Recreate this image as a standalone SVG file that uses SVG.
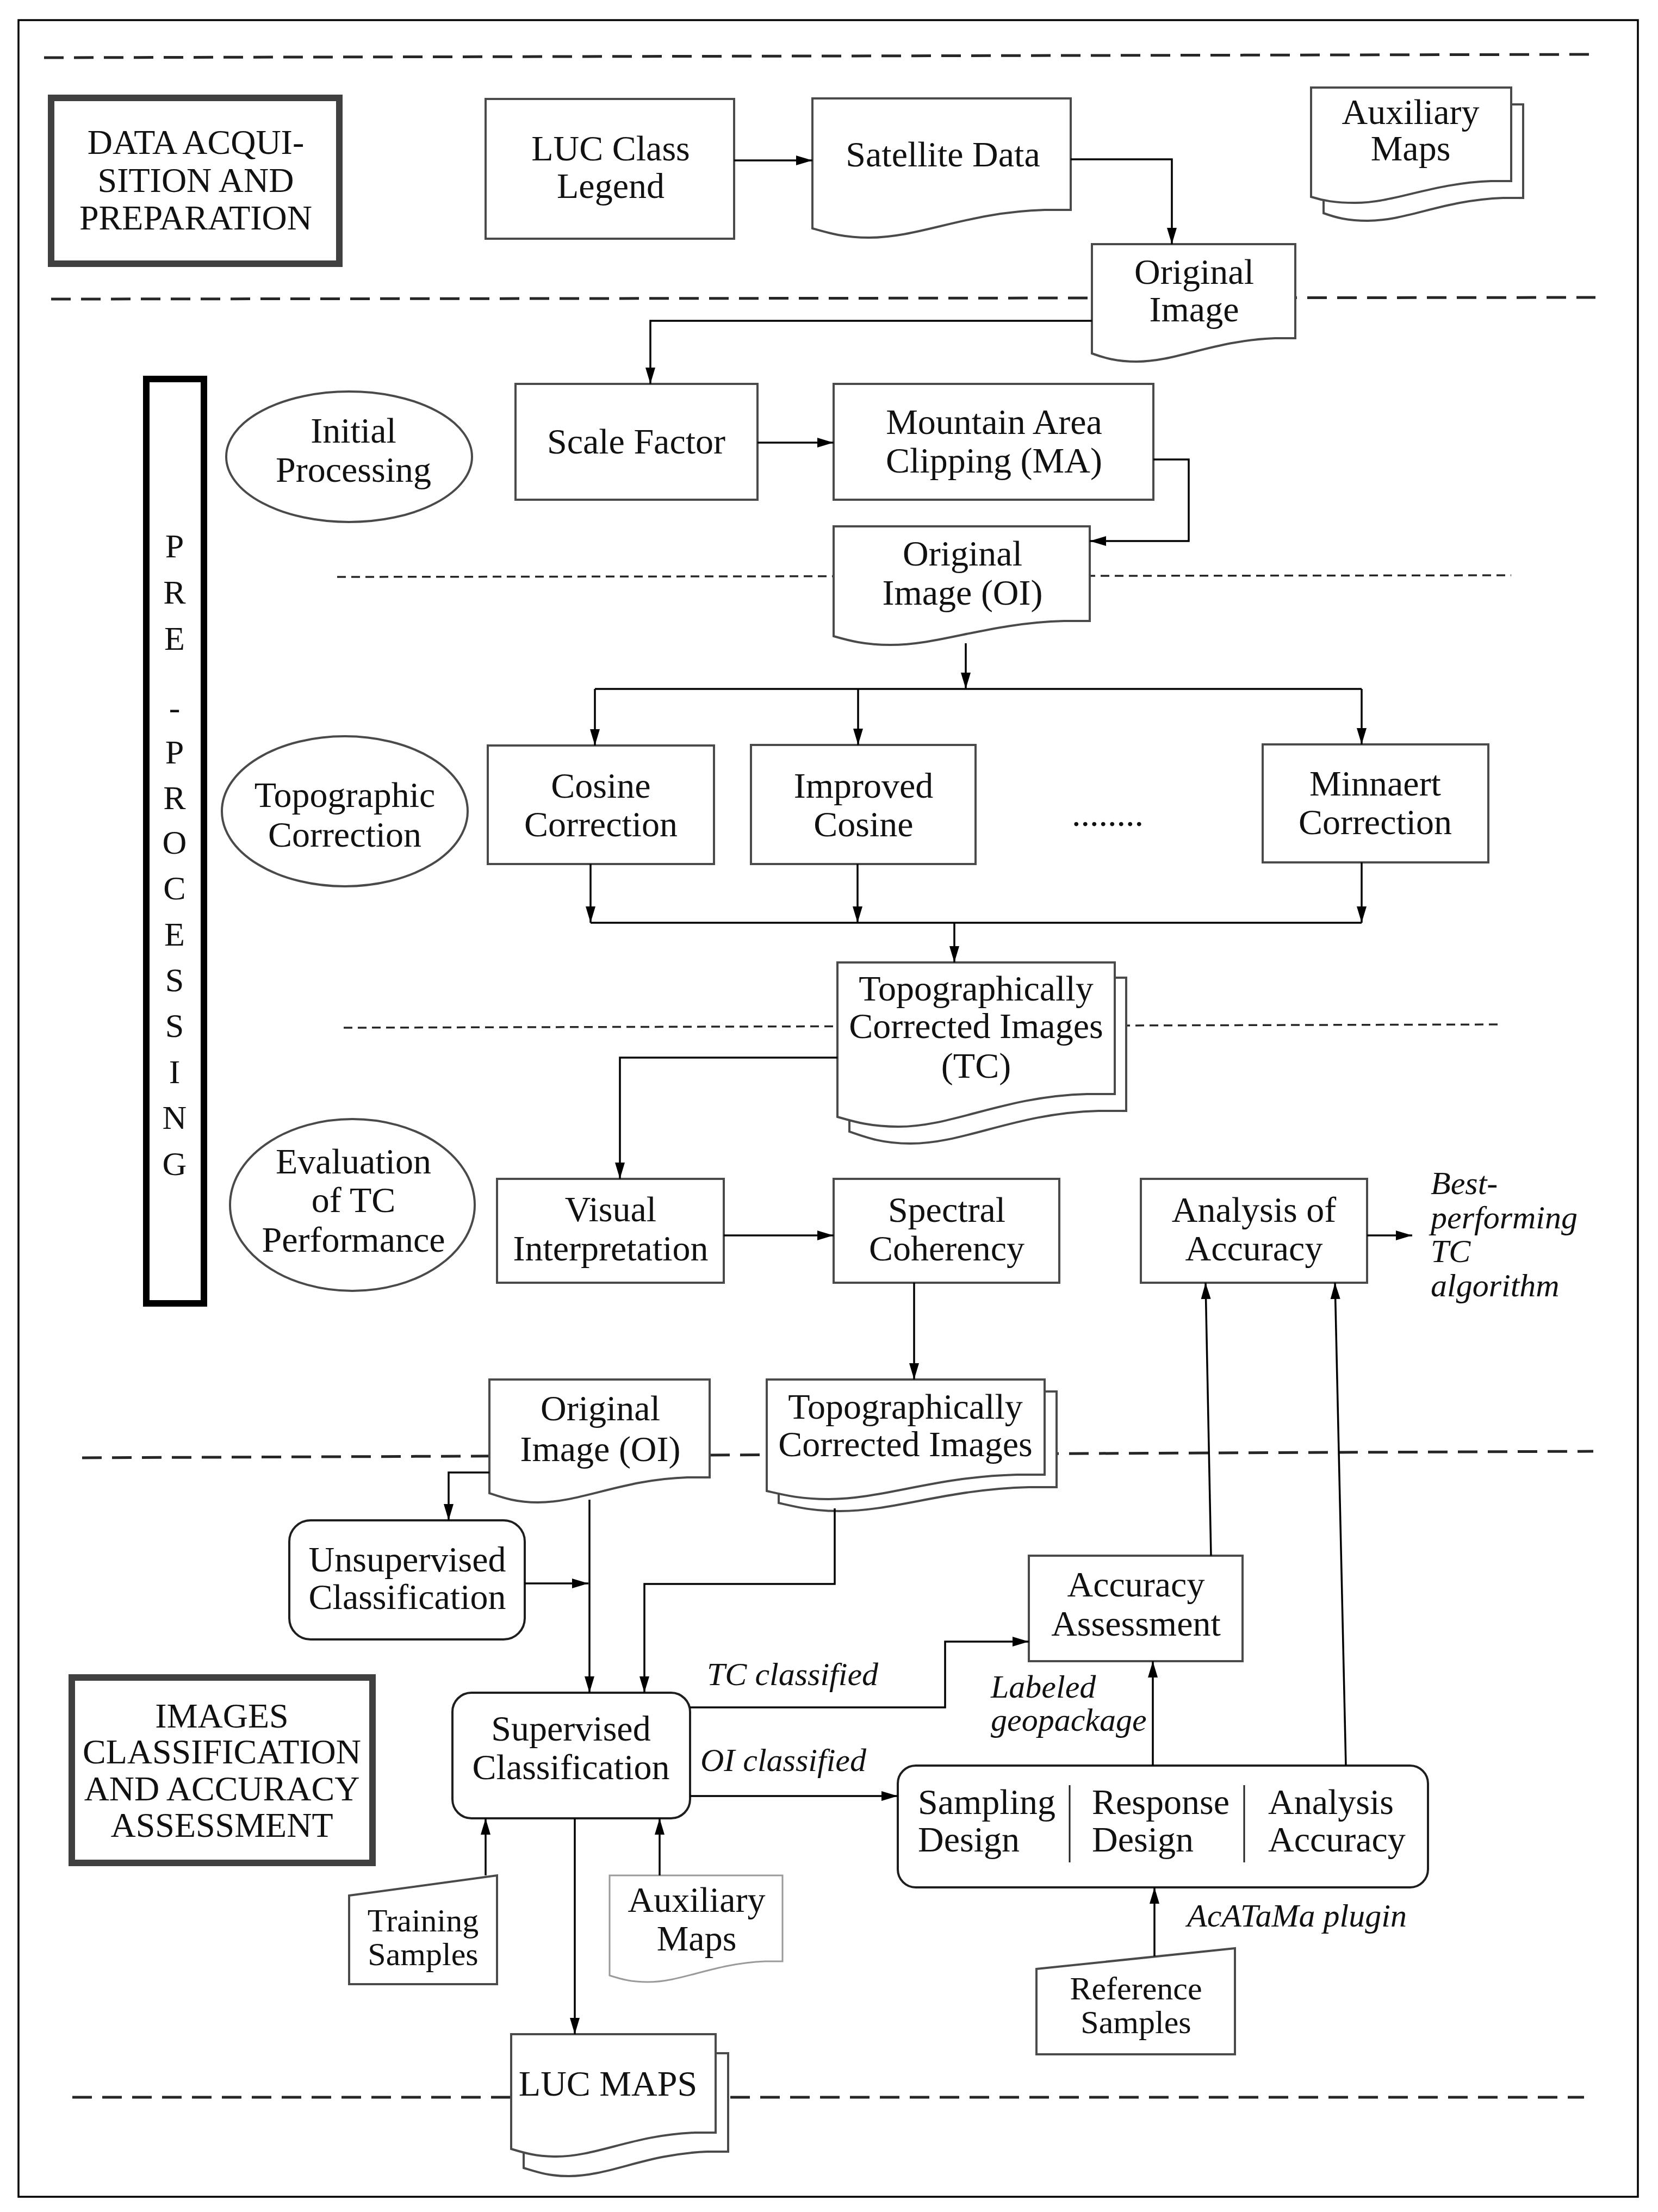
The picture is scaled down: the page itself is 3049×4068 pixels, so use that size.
<svg xmlns="http://www.w3.org/2000/svg" width="3049" height="4068" viewBox="0 0 3049 4068">
<style>
text{font-family:"Liberation Serif","Times New Roman",serif;font-size:66px;fill:#111;text-anchor:middle}
.it{font-style:italic;font-size:60px;text-anchor:start}
.st{text-anchor:start}
.hd{font-size:64px}
.pp{font-size:62px}
.sm{font-size:60px}
.n{fill:#fff;stroke:#4a4a4a;stroke-width:4}
.rn{fill:#fff;stroke:#1e1e1e;stroke-width:4}
.lt{fill:#fff;stroke:#9a9a9a;stroke-width:3}
.thk{fill:#fff;stroke:#404040;stroke-width:12}
.dk{fill:none;stroke:#262626;stroke-width:5;stroke-dasharray:36 19}
.dt{fill:none;stroke:#262626;stroke-width:3.5;stroke-dasharray:16 10}
.c{fill:none;stroke:#000;stroke-width:3.5}
.a{marker-end:url(#ah)}
</style>
<defs>
<marker id="ah" markerUnits="userSpaceOnUse" markerWidth="32" markerHeight="20" refX="30" refY="10" orient="auto"><path d="M0,1 L30,10 L0,19 z" fill="#000"/></marker>
</defs>
<rect x="0" y="0" width="3049" height="4068" fill="#fff"/>
<rect x="34" y="37" width="2978" height="4003" fill="none" stroke="#000" stroke-width="3.5"/>

<g id="separators">
<path class="dk" d="M81,106 L2939,100"/>
<path class="dk" d="M94,550 L2934,547"/>
<path class="dt" d="M620,1061 L2779,1058"/>
<path class="dt" d="M632,1890 L2759,1884"/>
<path class="dk" d="M151,2681 L2930,2669"/>
<path class="dk" d="M133,3857 L2913,3857"/>
</g>

<g id="sec-data">
<rect class="thk" x="94" y="180" width="530" height="305"/>
<text class="hd" x="360" y="283">DATA ACQUI-</text>
<text class="hd" x="360" y="353">SITION AND</text>
<text class="hd" x="360" y="422">PREPARATION</text>
</g>
<g id="sec-pre">
<rect x="269" y="697" width="106" height="1700" fill="#fff" stroke="#000" stroke-width="12"/>
<text class="pp" x="321" y="1025">P</text>
<text class="pp" x="321" y="1110">R</text>
<text class="pp" x="321" y="1195">E</text>
<text class="pp" x="321" y="1322">-</text>
<text class="pp" x="321" y="1404">P</text>
<text class="pp" x="321" y="1488">R</text>
<text class="pp" x="321" y="1570">O</text>
<text class="pp" x="321" y="1654">C</text>
<text class="pp" x="321" y="1739">E</text>
<text class="pp" x="321" y="1823">S</text>
<text class="pp" x="321" y="1907">S</text>
<text class="pp" x="321" y="1992">I</text>
<text class="pp" x="321" y="2076">N</text>
<text class="pp" x="321" y="2161">G</text>
</g>
<g id="sec-class">
<rect class="thk" x="132" y="3085" width="553" height="341"/>
<text class="hd" x="408" y="3177">IMAGES</text>
<text class="hd" x="408" y="3243">CLASSIFICATION</text>
<text class="hd" x="408" y="3311">AND ACCURACY</text>
<text class="hd" x="408" y="3378">ASSESSMENT</text>
</g>

<g id="luc-legend"><rect class="n" x="893" y="182" width="457" height="257"/><text x="1123" y="295">LUC Class</text><text x="1123" y="364">Legend</text></g>
<g id="satellite-data"><path class="n" d="M1494,181 H1969 V386 H1921 C1779,390 1693,437 1598,437 C1551,437 1522,428 1494,420 Z"/><text x="1734" y="306">Satellite Data</text></g>
<g id="aux-maps-top">
<path class="n" d="M2434,192 H2801 V364 H2764 C2654,368 2588,406 2515,406 C2478,406 2456,400 2434,392 Z"/>
<path class="n" d="M2411,161 H2779 V333 H2742 C2632,337 2566,373 2492,373 C2455,373 2433,369 2411,362 Z"/>
<text x="2594" y="228">Auxiliary</text><text x="2594" y="295">Maps</text></g>
<g id="original-image"><path class="n" d="M2008,449 H2382 V622 H2345 C2232,626 2165,665 2090,665 C2053,665 2030,658 2008,650 Z"/><text x="2196" y="522">Original</text><text x="2196" y="591">Image</text></g>

<g id="initial-processing"><ellipse class="n" cx="642" cy="840" rx="226" ry="120"/><text x="650" y="814">Initial</text><text x="650" y="886">Processing</text></g>
<g id="scale-factor"><rect class="n" x="948" y="706" width="445" height="213"/><text x="1170" y="834">Scale Factor</text></g>
<g id="mountain-clipping"><rect class="n" x="1533" y="706" width="588" height="213"/><text x="1828" y="798">Mountain Area</text><text x="1828" y="869">Clipping (MA)</text></g>
<g id="oi-pre"><path class="n" d="M1533,968 H2004 V1142 H1957 C1816,1146 1731,1186 1637,1186 C1590,1186 1561,1178 1533,1170 Z"/><text x="1770" y="1040">Original</text><text x="1770" y="1112">Image (OI)</text></g>

<g id="topographic-correction"><ellipse class="n" cx="634" cy="1492" rx="226" ry="138"/><text x="634" y="1484">Topographic</text><text x="634" y="1557">Correction</text></g>
<g id="cosine"><rect class="n" x="897" y="1371" width="416" height="218"/><text x="1105" y="1467">Cosine</text><text x="1105" y="1538">Correction</text></g>
<g id="improved-cosine"><rect class="n" x="1381" y="1370" width="413" height="219"/><text x="1588" y="1467">Improved</text><text x="1588" y="1538">Cosine</text></g>
<g id="ellipsis"><text x="2037" y="1519">........</text></g>
<g id="minnaert"><rect class="n" x="2322" y="1369" width="415" height="217"/><text x="2529" y="1463">Minnaert</text><text x="2529" y="1534">Correction</text></g>
<g id="tc-images">
<path class="n" d="M1562,1798 H2071 V2043 H2020 C1867,2047 1776,2103 1674,2103 C1623,2103 1593,2092 1562,2081 Z"/>
<path class="n" d="M1540,1770 H2050 V2012 H1999 C1846,2016 1754,2072 1652,2072 C1601,2072 1571,2063 1540,2054 Z"/>
<text x="1795" y="1840">Topographically</text><text x="1795" y="1909">Corrected Images</text><text x="1795" y="1982">(TC)</text></g>

<g id="evaluation"><ellipse class="n" cx="648" cy="2216" rx="225" ry="158"/><text x="650" y="2158">Evaluation</text><text x="650" y="2229">of TC</text><text x="650" y="2302">Performance</text></g>
<g id="visual"><rect class="n" x="914" y="2168" width="417" height="191"/><text x="1123" y="2246">Visual</text><text x="1123" y="2318">Interpretation</text></g>
<g id="spectral"><rect class="n" x="1533" y="2168" width="415" height="191"/><text x="1741" y="2247">Spectral</text><text x="1741" y="2318">Coherency</text></g>
<g id="analysis-accuracy"><rect class="n" x="2098" y="2168" width="416" height="191"/><text x="2306" y="2247">Analysis of</text><text x="2306" y="2318">Accuracy</text></g>
<g id="best-label"><text class="it" x="2631" y="2196">Best-</text><text class="it" x="2631" y="2259">performing</text><text class="it" x="2631" y="2321">TC</text><text class="it" x="2631" y="2384">algorithm</text></g>

<g id="oi-class"><path class="n" d="M900,2537 H1305 V2717 H1264 C1143,2721 1070,2763 989,2763 C949,2763 924,2754 900,2746 Z"/><text x="1104" y="2612">Original</text><text x="1104" y="2687">Image (OI)</text></g>
<g id="tc-class">
<path class="n" d="M1432,2559 H1943 V2735 H1892 C1739,2739 1647,2779 1544,2779 C1493,2779 1463,2771 1432,2764 Z"/>
<path class="n" d="M1410,2537 H1921 V2712 H1870 C1717,2716 1625,2757 1522,2757 C1471,2757 1441,2749 1410,2742 Z"/>
<text x="1665" y="2609">Topographically</text><text x="1665" y="2678">Corrected Images</text></g>
<g id="unsupervised"><rect class="rn" x="532" y="2796" width="433" height="219" rx="39"/><text x="749" y="2890">Unsupervised</text><text x="749" y="2959">Classification</text></g>
<g id="supervised"><rect class="rn" x="832" y="3113" width="437" height="231" rx="35"/><text x="1050" y="3201">Supervised</text><text x="1050" y="3272">Classification</text></g>
<g id="accuracy-assessment"><rect class="n" x="1892" y="2861" width="393" height="194"/><text x="2089" y="2936">Accuracy</text><text x="2089" y="3008">Assessment</text></g>
<g id="acatama">
<rect class="rn" x="1651" y="3247" width="975" height="224" rx="33"/>
<line x1="1967" y1="3283" x2="1967" y2="3425" stroke="#222" stroke-width="3"/>
<line x1="2288" y1="3283" x2="2288" y2="3425" stroke="#222" stroke-width="3"/>
<text class="st" x="1688" y="3336">Sampling</text><text class="st" x="1688" y="3405">Design</text>
<text class="st" x="2008" y="3336">Response</text><text class="st" x="2008" y="3405">Design</text>
<text class="st" x="2332" y="3336">Analysis</text><text class="st" x="2332" y="3405">Accuracy</text></g>
<g id="training-samples"><path class="n" d="M642,3486 L914,3449 V3649 H642 Z"/><text class="sm" x="778" y="3552">Training</text><text class="sm" x="778" y="3614">Samples</text></g>
<g id="aux-maps-bottom"><path class="lt" d="M1121,3449 H1439 V3607 H1407 C1312,3611 1255,3645 1191,3645 C1159,3645 1140,3639 1121,3633 Z"/><text x="1281" y="3516">Auxiliary</text><text x="1281" y="3587">Maps</text></g>
<g id="reference-samples"><path class="n" d="M1906,3621 L2271,3583 V3778 H1906 Z"/><text class="sm" x="2089" y="3677">Reference</text><text class="sm" x="2089" y="3739">Samples</text></g>
<g id="luc-maps">
<path class="n" d="M963,3776 H1339 V3957 H1301 C1189,3961 1121,4002 1046,4002 C1008,4002 986,3994 963,3987 Z"/>
<path class="n" d="M940,3741 H1316 V3922 H1278 C1166,3926 1098,3966 1023,3966 C985,3966 963,3959 940,3952 Z"/>
<text x="1118" y="3854">LUC MAPS</text></g>

<g id="connectors">
<path class="c a" d="M1350,295 H1494"/>
<path class="c a" d="M1969,293 H2155 V449"/>
<path class="c a" d="M2008,590 H1196 V706"/>
<path class="c a" d="M1393,814 H1533"/>
<path class="c a" d="M2121,845 H2186 V995 H2004"/>
<path class="c a" d="M1776,1183 V1267"/>
<path class="c" d="M1094,1267 H2504"/>
<path class="c a" d="M1094,1267 V1371"/>
<path class="c a" d="M1578,1267 V1370"/>
<path class="c a" d="M2504,1267 V1369"/>
<path class="c a" d="M1086,1589 V1697"/>
<path class="c a" d="M1577,1589 V1697"/>
<path class="c a" d="M2504,1586 V1697"/>
<path class="c" d="M1086,1697 H2504"/>
<path class="c a" d="M1755,1697 V1770"/>
<path class="c a" d="M1540,1945 H1140 V2168"/>
<path class="c a" d="M1331,2272 H1533"/>
<path class="c a" d="M1681,2359 V2537"/>
<path class="c a" d="M2514,2272 H2597"/>
<path class="c a" d="M900,2708 H825 V2796"/>
<path class="c a" d="M965,2912 H1082"/>
<path class="c a" d="M1084,2758 V3113"/>
<path class="c a" d="M1535,2774 V2913 H1185 V3113"/>
<path class="c a" d="M1269,3140 H1738 V3019 H1892"/>
<path class="c a" d="M1269,3303 H1651"/>
<path class="c a" d="M2120,3247 V3055"/>
<path class="c a" d="M2227,2861 L2217,2359"/>
<path class="c a" d="M2475,3247 L2455,2359"/>
<path class="c a" d="M893,3449 V3344"/>
<path class="c a" d="M1057,3344 V3741"/>
<path class="c a" d="M1213,3449 V3344"/>
<path class="c a" d="M2123,3598 V3471"/>
</g>
<g id="edge-labels">
<text class="it" x="1300" y="3099">TC classified</text>
<text class="it" x="1288" y="3257">OI classified</text>
<text class="it" x="1822" y="3122">Labeled</text>
<text class="it" x="1822" y="3183">geopackage</text>
<text class="it" x="2183" y="3543">AcATaMa plugin</text>
</g>
</svg>
